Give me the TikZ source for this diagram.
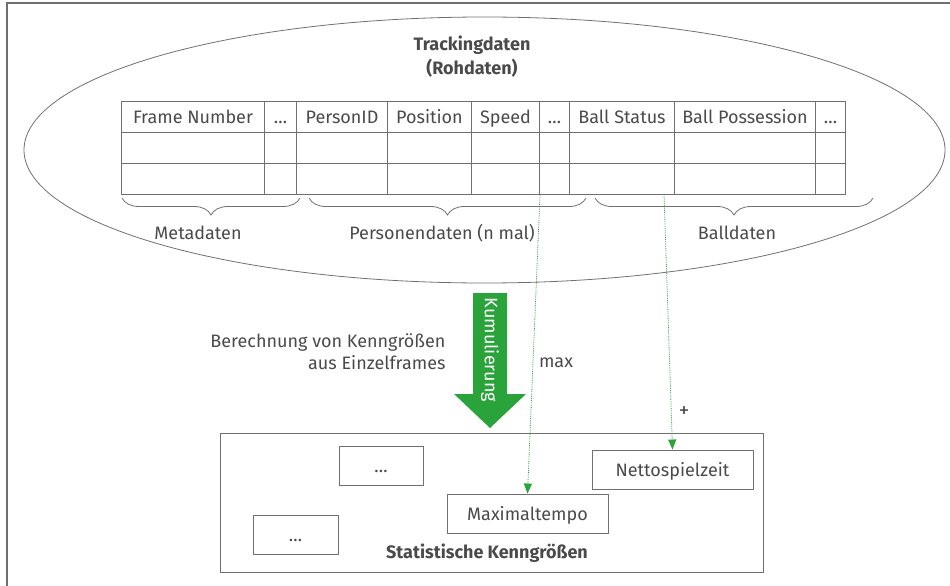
\documentclass[tikz,border=0pt]{standalone}
\usepackage{fontspec}
\setmainfont{Fira Sans}
\usetikzlibrary{shapes.geometric,decorations.pathreplacing,arrows.meta}

\definecolor{kgreen}{HTML}{2AA33B}
\definecolor{kgrey}{HTML}{4A4A4A}
\definecolor{lgrey}{HTML}{707070}

\begin{document}
\begin{tikzpicture}[x=1pt,y=-1pt,
    every node/.style={text=kgrey,font=\fontsize{18}{22}\selectfont},
    cell/.style={draw=lgrey,line width=1pt,minimum height=31pt,inner sep=0pt,
      text height=17pt,text depth=4pt,anchor=north west},
    kbox/.style={draw=lgrey,line width=0.9pt,minimum height=39pt,inner sep=0pt,
      text height=17pt,text depth=4pt},
    ktitle/.style={font=\fontsize{18}{24}\selectfont\bfseries},
    kbrace/.style={draw=lgrey,line width=0.8pt,decorate,decoration={brace,mirror,amplitude=17pt}},
    flow/.style={kgreen,densely dotted,line width=0.8pt,-{Triangle[length=10pt,width=8pt]}}]
  \useasboundingbox (0,0) rectangle (950,586);
  \draw[lgrey,line width=1.2pt] (7,586) -- (7,3) -- (950,3);

  % raw data
  \node[draw=lgrey,ellipse,line width=0.8pt,minimum width=921pt,minimum height=266pt] (raw) at (484.5,150) {};
  \node[ktitle,align=center] (rawtitle) at (472,57) {Trackingdaten\\(Rohdaten)};

  \foreach \l/\r/\t [count=\i] in {121/264/Frame Number,264/296/\dots,296/387/PersonID,
      387/471/Position,471/539/Speed,539/569/\dots,569/674/Ball Status,
      674/815/Ball Possession,815/845/\dots} {
    \node[cell,minimum width={\r-\l}] (h\i) at (\l,101) {\t};
    \node[cell,minimum width={\r-\l}] (a\i) at (\l,132) {};
    \node[cell,minimum width={\r-\l}] (b\i) at (\l,163) {};
  }
  \coordinate (maxsrc) at (b5.south east);
  \coordinate (nettosrc) at (664,194);

  \draw[kbrace] (122,198) -- (300,198);
  \draw[kbrace] (309,198) -- (586,198);
  \draw[kbrace] (595,198) -- (873,198);
  \node (meta) at (198,233) {Metadaten};
  \node (person) at (442,233) {Personendaten (n mal)};
  \node (ball) at (737,233) {Balldaten};

  % cumulation
  \fill[kgreen] (473,293) -- (507,293) -- (507,394) -- (526,394) -- (490,428)
    -- (454,394) -- (473,394) -- cycle;
  \node[rotate=-90,text=white] (cumul) at (490,350) {Kumulierung};
  \node[align=right,anchor=east] (calc) at (449,352) {Berechnung von Kenngrößen\\aus Einzelframes};
  \node (maxlbl) at (556,363) {max};
  \node[font=\fontsize{21}{22}\selectfont] (pluslbl) at (684,412) {+};

  % statistics
  \node[kbox,line width=1pt,minimum width=543pt,minimum height=139pt] (stats) at (491.5,502.5) {};
  \node[ktitle] (statstitle) at (487,553) {Statistische Kenngrößen};
  \node[kbox,minimum width=84pt] (more1) at (381,465.5) {\dots};
  \node[kbox,minimum width=161pt] (netto) at (672.5,469.5) {Nettospielzeit};
  \node[kbox,minimum width=161pt] (maxtempo) at (527.5,513.5) {Maximaltempo};
  \node[kbox,minimum width=85pt] (more2) at (295.5,534.5) {\dots};

  \draw[flow] (maxsrc) -- (maxtempo.north);
  \draw[flow] (nettosrc) -- (netto.north);
\end{tikzpicture}
\end{document}
